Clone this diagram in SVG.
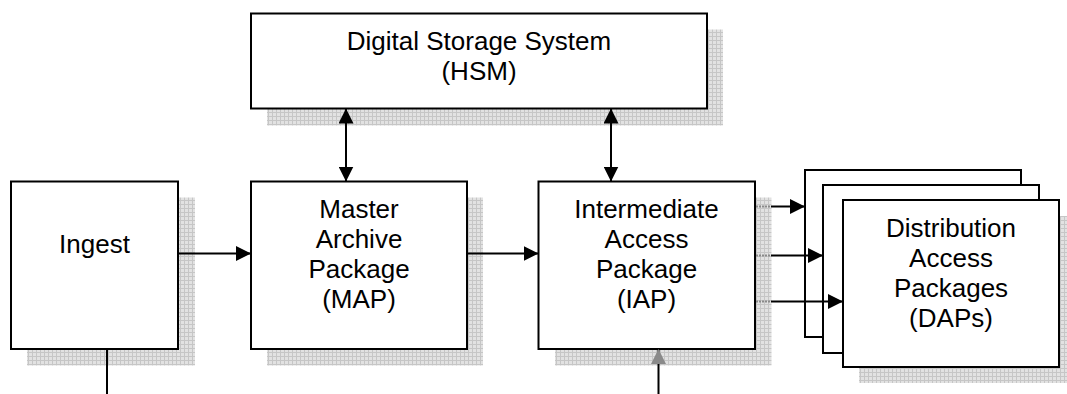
<svg xmlns="http://www.w3.org/2000/svg" width="1067" height="394" viewBox="0 0 1067 394">
<style>
.box{fill:#fff;stroke:#000;stroke-width:2}
.sh{fill:url(#grid)}
.t{font-family:"Liberation Sans",Arial,sans-serif;font-size:26px;fill:#000;text-anchor:middle}
.c{stroke:#000;stroke-width:2;fill:none}
.g{stroke:#8a8a8a;stroke-width:2;stroke-dasharray:2 1}
</style>
<defs>
<pattern id="grid" width="4" height="4" patternUnits="userSpaceOnUse">
<rect width="4" height="4" fill="#e2e2e2"/>
<path d="M0 0.5H4M0.5 0V4" stroke="#c6c6c6" stroke-width="1"/>
</pattern>
<marker id="ah" viewBox="0 0 15 15" refX="15" refY="7.5" markerWidth="15" markerHeight="15" markerUnits="userSpaceOnUse" orient="auto-start-reverse">
<path d="M0 0L15 7.5L0 15Z" fill="#000"/>
</marker>
<marker id="ahg" viewBox="0 0 15 15" refX="15" refY="7.5" markerWidth="15" markerHeight="15" markerUnits="userSpaceOnUse" orient="auto">
<path d="M0 0L15 7.5L0 15Z" fill="#8a8a8a"/>
</marker>
</defs>

<g id="shadows">
<rect class="sh" x="267" y="29.5" width="456" height="96"/>
<rect class="sh" x="27" y="197.5" width="168" height="168"/>
<rect class="sh" x="267" y="197.5" width="216" height="168"/>
<rect class="sh" x="555" y="197.5" width="216.5" height="168"/>
<rect class="sh" x="859" y="216" width="216" height="167"/>
</g>

<g id="dss">
<rect class="box" x="251" y="13.5" width="456" height="95"/>
<text class="t" x="479" y="50">Digital Storage System</text>
<text class="t" x="479" y="80">(HSM)</text>
</g>

<g id="ingest">
<rect class="box" x="11" y="181.5" width="167" height="167.5"/>
<text class="t" x="94.5" y="253">Ingest</text>
</g>

<g id="map">
<rect class="box" x="251" y="181.5" width="216" height="167.5"/>
<text class="t" x="359" y="218">Master</text>
<text class="t" x="359" y="248">Archive</text>
<text class="t" x="359" y="278">Package</text>
<text class="t" x="359" y="308">(MAP)</text>
</g>

<g id="iap">
<rect class="box" x="538.5" y="181.5" width="216.5" height="167.5"/>
<text class="t" x="646.5" y="218">Intermediate</text>
<text class="t" x="646.5" y="248">Access</text>
<text class="t" x="646.5" y="278">Package</text>
<text class="t" x="646.5" y="308">(IAP)</text>
</g>

<g id="daps">
<rect class="box" x="805" y="170" width="216" height="167"/>
<rect class="box" x="823" y="185" width="216" height="168"/>
<rect class="box" x="843" y="200" width="216" height="167"/>
<text class="t" x="951" y="237">Distribution</text>
<text class="t" x="951" y="267">Access</text>
<text class="t" x="951" y="297">Packages</text>
<text class="t" x="951" y="327">(DAPs)</text>
</g>

<g id="connectors">
<line class="c" x1="178" y1="253.5" x2="251" y2="253.5" marker-end="url(#ah)"/>
<line class="c" x1="467" y1="253.5" x2="538.5" y2="253.5" marker-end="url(#ah)"/>
<line class="c" x1="346" y1="108.5" x2="346" y2="181.5" marker-start="url(#ah)" marker-end="url(#ah)"/>
<line class="c" x1="611" y1="108.5" x2="611" y2="181.5" marker-start="url(#ah)" marker-end="url(#ah)"/>
<line class="c" x1="107" y1="349" x2="107" y2="394"/>
<line class="c" x1="658.5" y1="394" x2="658.5" y2="349" marker-end="url(#ahg)"/>
<line class="g" x1="756" y1="206.5" x2="771" y2="206.5"/>
<line class="g" x1="756" y1="255.5" x2="771" y2="255.5"/>
<line class="g" x1="756" y1="301.5" x2="771" y2="301.5"/>
<line class="c" x1="771" y1="206.5" x2="805" y2="206.5" marker-end="url(#ah)"/>
<line class="c" x1="771" y1="255.5" x2="823" y2="255.5" marker-end="url(#ah)"/>
<line class="c" x1="771" y1="301.5" x2="843" y2="301.5" marker-end="url(#ah)"/>
</g>
</svg>
